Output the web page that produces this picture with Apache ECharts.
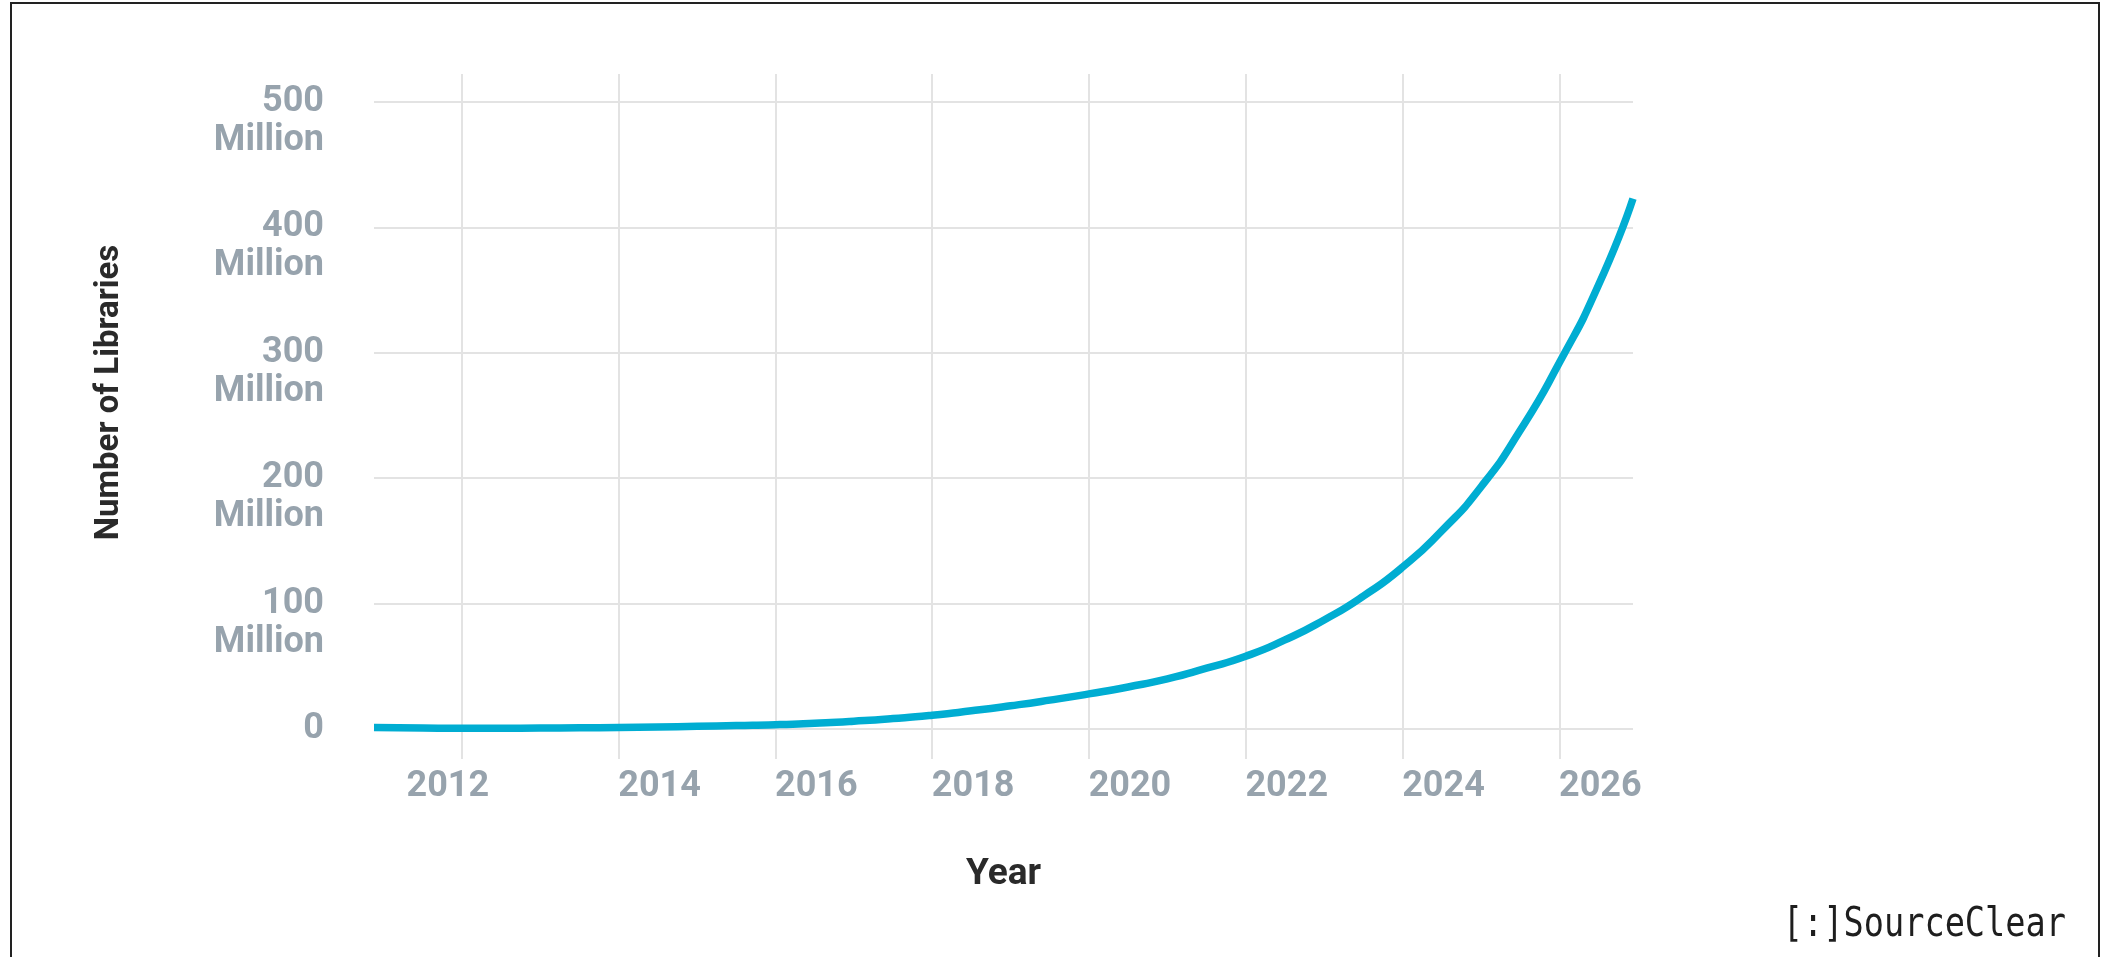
<!DOCTYPE html>
<html>
<head>
<meta charset="utf-8">
<script src="https://cdn.jsdelivr.net/npm/echarts@6/dist/echarts.min.js"></script>
<style>
  html, body { margin: 0; padding: 0; background: #fff; }
  #wrap { position: relative; width: 2102px; height: 957px; overflow: hidden; }
  #chart { position: absolute; left: 0; top: 0; width: 2102px; height: 957px; }
  #frame { position: absolute; left: 10px; top: 2px; width: 2090px; height: 970px; border: 2px solid #222; box-sizing: border-box; pointer-events: none; }
</style>
</head>
<body>
<div id="wrap">
  <div id="chart"></div>
  <div id="frame"></div>
</div>
<script>
// Data
const years = [2010.88, 2011.5, 2012, 2012.5, 2013, 2013.5, 2014, 2014.5, 2015, 2015.5,
               2016, 2016.5, 2017, 2017.5, 2018, 2018.5, 2019, 2019.5, 2020, 2020.5,
               2021, 2021.5, 2022, 2022.5, 2023, 2023.5, 2024, 2024.5, 2025, 2025.5,
               2026, 2026.5, 2026.94];
const librariesMillions = [1.2, 0.8, 0.6, 0.6, 0.7, 0.9, 1.2, 1.6, 2.1, 2.7,
                           3.4, 4.6, 6.2, 8.3, 11, 14.5, 18.5, 23, 28, 33.5,
                           40, 48.5, 58, 71, 87, 106, 129, 158, 193, 238,
                           292, 354, 423];
const xTickYears = [2012, 2014, 2016, 2018, 2020, 2022, 2024, 2026];
const xMin = 2010.88, xMax = 2026.94;

const seriesData = years.map((y, i) => [y, librariesMillions[i]]);

const chart = echarts.init(document.getElementById('chart'), null, { renderer: 'canvas' });
const labelGray = '#97a3ad';
const gridGray = '#e3e3e3';
const labelFont = { fontFamily: 'Roboto', fontWeight: 'bold', fontSize: 36, color: labelGray };

chart.setOption({
  backgroundColor: '#ffffff',
  animation: false,
  grid: [
    { left: 374, right: 469, top: 102, bottom: 228 },
    { left: 374, right: 469, top: 74, bottom: 198 }
  ],
  xAxis: [
    {
      type: 'value', gridIndex: 0, min: xMin, max: xMax,
      name: 'Year', nameLocation: 'middle', nameGap: 146,
      nameTextStyle: { fontFamily: 'Roboto', fontWeight: 'bold', fontSize: 37, color: '#2a2a2a', verticalAlign: 'middle' },
      axisLine: { show: false },
      axisTick: { show: false, customValues: xTickYears },
      splitLine: { show: false },
      axisLabel: {
        customValues: xTickYears,
        formatter: v => v === 2012 ? '{t|' + v + '}{r| }' : '{l| }{t|' + v + '}',
        margin: 58, verticalAlign: 'middle', align: 'center',
        rich: {
          t: labelFont,
          l: { width: 82, fontSize: 36 },
          r: { width: 28, fontSize: 36 }
        }
      }
    },
    {
      type: 'value', gridIndex: 1, min: xMin, max: xMax,
      axisLine: { show: false },
      axisTick: { show: false, customValues: xTickYears },
      axisLabel: { show: false, customValues: xTickYears },
      splitLine: { show: true, lineStyle: { color: gridGray, width: 2 } }
    }
  ],
  yAxis: [
    {
      type: 'value', gridIndex: 0, min: 0, max: 500, interval: 100,
      name: 'Number of Libraries', nameLocation: 'middle', nameGap: 264,
      nameTextStyle: { fontFamily: 'Roboto', fontWeight: 'bold', fontSize: 33, color: '#2a2a2a', verticalAlign: 'middle', padding: [0, 0, 0, 46] },
      axisLine: { show: false },
      axisTick: { show: false },
      splitLine: { show: true, lineStyle: { color: gridGray, width: 2 } },
      axisLabel: {
        margin: 50,
        formatter: v => v === 0 ? '0' : ' \n' + v + '\nMillion',
        fontFamily: 'Roboto', fontWeight: 'bold', fontSize: 36, lineHeight: 39,
        color: labelGray, align: 'right', verticalAlign: 'middle'
      }
    },
    {
      type: 'value', gridIndex: 1, min: 0, max: 1, show: false,
      splitLine: { show: false }
    }
  ],
  series: [
    {
      type: 'line', xAxisIndex: 0, yAxisIndex: 0,
      data: seriesData,
      smooth: 0.6,
      showSymbol: false, symbol: 'none',
      lineStyle: { color: '#00add2', width: 7.5, cap: 'butt', join: 'round' },
      clip: false
    }
  ],
  graphic: [
    {
      type: 'text', x: 2066, y: 906, scaleX: 0.84,
      style: { text: '[:]SourceClear', fontFamily: 'DejaVu Sans Mono', fontSize: 40, fill: '#1e1e1e', align: 'right', verticalAlign: 'top' }
    }
  ]
});
</script>
</body>
</html>
